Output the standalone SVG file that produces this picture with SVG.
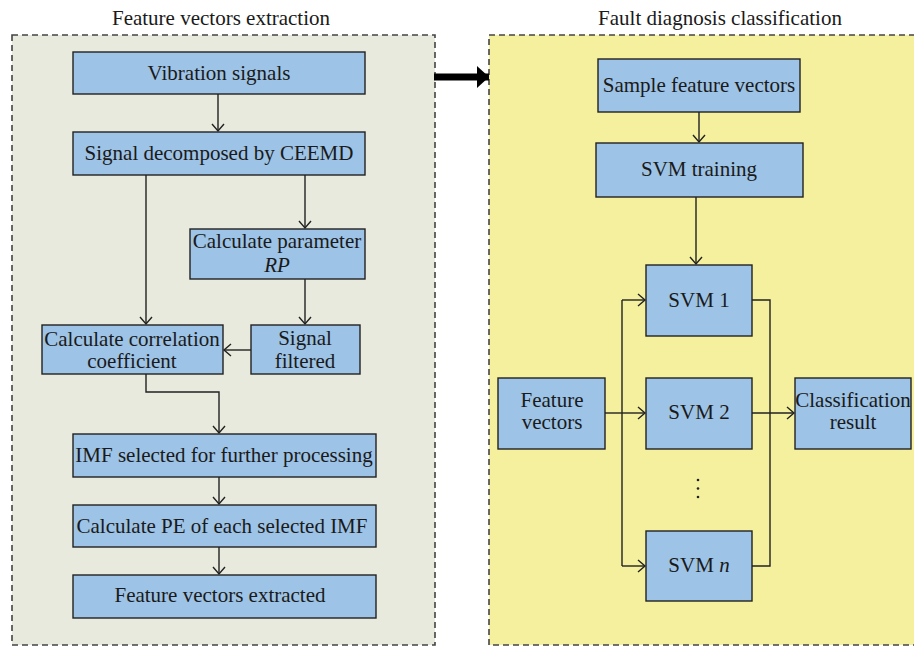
<svg xmlns="http://www.w3.org/2000/svg" width="914" height="646" viewBox="0 0 914 646">
<defs>
<marker id="ah" markerUnits="userSpaceOnUse" markerWidth="16" markerHeight="16" viewBox="-8 -8 16 16" refX="0" refY="0" orient="auto">
<path d="M-7,-6 L0,0 L-7,6" fill="none" stroke="#222" stroke-width="1.4"/>
</marker>
<marker id="big" markerUnits="userSpaceOnUse" markerWidth="14" markerHeight="24" viewBox="-12 -12 14 24" refX="0" refY="0" orient="auto">
<path d="M-12,-11 L0,0 L-12,11 Z" fill="#000"/>
</marker>
</defs>
<style>
.panel{stroke:#444;stroke-width:1.6;stroke-dasharray:6,4}
.box{fill:#9dc3e6;stroke:#222;stroke-width:1.4}
text{font-family:"Liberation Serif","Times New Roman",serif;font-size:21px;fill:#1a1a1a;text-anchor:middle}
.ttl{font-size:21px}
.c{fill:none;stroke:#222;stroke-width:1.4}
.a{marker-end:url(#ah)}
</style>
<rect width="914" height="646" fill="#fff"/>
<g id="panel-left">
<rect class="panel" x="12" y="35" width="423" height="610" fill="#e7eadc"/>
<text class="ttl" x="221" y="25">Feature vectors extraction</text>
</g>
<g id="panel-right">
<rect class="panel" x="489" y="35" width="440" height="610" fill="#f4f09e"/>
<text class="ttl" x="720" y="25">Fault diagnosis classification</text>
</g>
<g id="connectors">
<line x1="434" y1="77" x2="489" y2="77" stroke="#000" stroke-width="7" marker-end="url(#big)"/>
<path class="c a" d="M218,94 V131"/>
<path class="c a" d="M146,175 V324"/>
<path class="c a" d="M305,175 V228"/>
<path class="c a" d="M305,279 V324"/>
<path class="c a" d="M251,350 H224"/>
<path class="c a" d="M146,374 V392 H219 V433"/>
<path class="c a" d="M219,477 V504"/>
<path class="c a" d="M219,547 V574"/>
<path class="c a" d="M699,112 V142"/>
<path class="c a" d="M696,197 V264"/>
<path class="c" d="M605,413 H622"/>
<path class="c" d="M622,300 V566"/>
<path class="c a" d="M622,300 H645"/>
<path class="c a" d="M622,413 H645"/>
<path class="c a" d="M622,566 H645"/>
<path class="c" d="M752,300 H770 V566 H752"/>
<path class="c a" d="M752,413 H794"/>
</g>
<g id="n-vibration"><rect class="box" x="73" y="52" width="292" height="42"/><text x="219" y="80">Vibration signals</text></g>
<g id="n-ceemd"><rect class="box" x="73" y="132" width="292" height="43"/><text x="219" y="160">Signal decomposed by CEEMD</text></g>
<g id="n-rp"><rect class="box" x="190" y="229" width="175" height="50"/><text x="277" y="248">Calculate parameter</text><text x="277" y="272" font-style="italic">RP</text></g>
<g id="n-filtered"><rect class="box" x="251" y="325" width="109" height="49"/><text x="305" y="345">Signal</text><text x="305" y="368">filtered</text></g>
<g id="n-corr"><rect class="box" x="42" y="325" width="181" height="49"/><text x="132" y="346">Calculate correlation</text><text x="132" y="368">coefficient</text></g>
<g id="n-imf"><rect class="box" x="73" y="434" width="303" height="43"/><text x="224" y="462">IMF selected for further processing</text></g>
<g id="n-pe"><rect class="box" x="73" y="505" width="303" height="42"/><text x="222" y="533">Calculate PE of each selected IMF</text></g>
<g id="n-extracted"><rect class="box" x="73" y="575" width="303" height="43"/><text x="220" y="602">Feature vectors extracted</text></g>
<g id="n-sample"><rect class="box" x="598" y="59" width="202" height="53"/><text x="699" y="92">Sample feature vectors</text></g>
<g id="n-training"><rect class="box" x="596" y="143" width="207" height="54"/><text x="699" y="176">SVM training</text></g>
<g id="n-svm1"><rect class="box" x="646" y="265" width="106" height="71"/><text x="699" y="307">SVM 1</text></g>
<g id="n-svm2"><rect class="box" x="646" y="378" width="106" height="71"/><text x="699" y="419">SVM 2</text></g>
<g id="n-dots"><circle cx="698" cy="480" r="1.3" fill="#222"/><circle cx="698" cy="488.5" r="1.3" fill="#222"/><circle cx="698" cy="497" r="1.3" fill="#222"/></g>
<g id="n-svmn"><rect class="box" x="646" y="531" width="106" height="70"/><text x="699" y="572">SVM <tspan font-style="italic">n</tspan></text></g>
<g id="n-features"><rect class="box" x="498" y="378" width="107" height="71"/><text x="552" y="407">Feature</text><text x="552" y="429">vectors</text></g>
<g id="n-result"><rect class="box" x="795" y="378" width="116" height="71"/><text x="853" y="407">Classification</text><text x="853" y="429">result</text></g>
</svg>
